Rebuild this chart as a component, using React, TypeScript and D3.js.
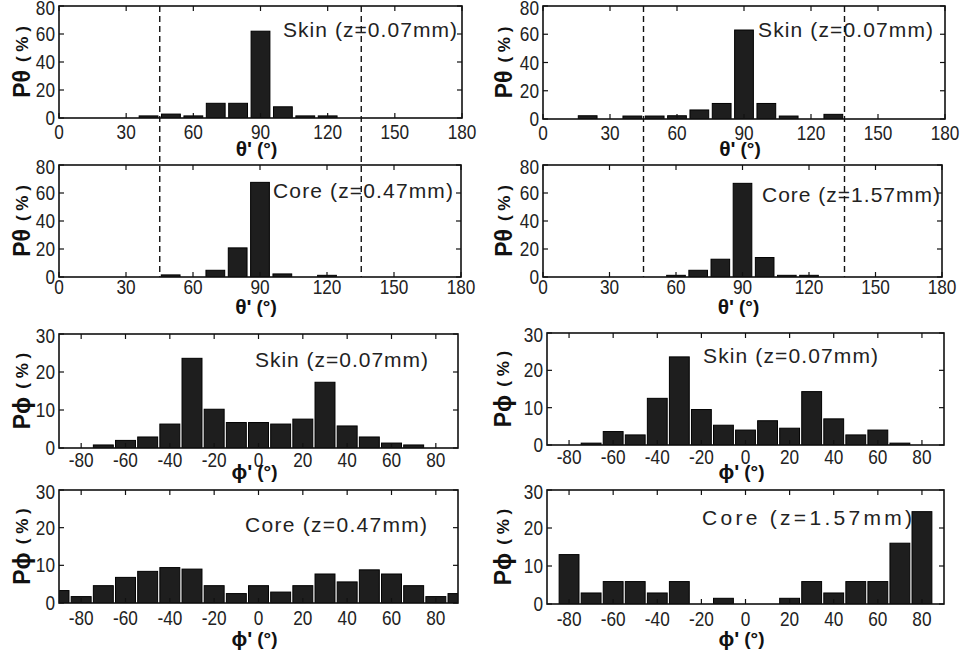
import React from "react";
import * as d3 from "d3";

// ---- data ----
const thetaCenters = [20, 30, 40, 50, 60, 70, 80, 90, 100, 110, 120, 130];
const thetaSkinLeft = [0, 0, 1.5, 2.8, 1.5, 10.5, 10.5, 62, 8, 1.5, 1.5, 0];
const thetaSkinRight = [2.3, 0, 2.1, 2.1, 2.3, 6.4, 11, 63, 11, 2.1, 0, 3.3];
const thetaCoreLeft = [0, 0, 0, 1.5, 0, 4.8, 20.8, 67.6, 2.2, 0, 1.2, 0];
const thetaCoreRight = [0, 0, 0, 0, 1.2, 4.8, 12.7, 66.9, 13.9, 1.2, 1.2, 0];

const phiCenters = [-90, -80, -70, -60, -50, -40, -30, -20, -10, 0, 10, 20, 30, 40, 50, 60, 70, 80, 90];
const phiSkinLeft = [0, 0, 0.8, 2, 2.9, 6.3, 23.6, 10.2, 6.7, 6.7, 6.3, 7.6, 17.3, 5.8, 2.9, 1.3, 0.8, 0, 0];
const phiSkinRight = [0, 0, 0.5, 3.6, 2.7, 12.5, 23.6, 9.5, 5.3, 4, 6.5, 4.5, 14.3, 7, 2.7, 4, 0.5, 0, 0];
const phiCoreLeft = [3.3, 1.7, 4.6, 6.8, 8.4, 9.4, 9, 4.6, 2.5, 4.6, 2.9, 4.6, 7.7, 5.6, 8.8, 7.7, 4.6, 1.7, 2.5];
const phiCoreRight = [0, 13, 2.9, 5.9, 5.9, 2.9, 5.9, 0, 1.5, 0, 0, 1.5, 5.9, 2.9, 5.9, 5.9, 16, 24.3, 0];

const thetaXTicks = [0, 30, 60, 90, 120, 150, 180];
const thetaYTicks = [0, 20, 40, 60, 80];
const phiXTicks = [-80, -60, -40, -20, 0, 20, 40, 60, 80];
const phiYTicks = [0, 10, 20, 30];
const thetaGuides = [45, 135];

const labels = [
  "Skin (z=0.07mm)",
  "Skin (z=0.07mm)",
  "Core (z=0.47mm)",
  "Core (z=1.57mm)",
  "Skin (z=0.07mm)",
  "Skin (z=0.07mm)",
  "Core (z=0.47mm)",
  "Core (z=1.57mm)",
];

type Layout = {
  x0: number; x1: number; y0: number; y1: number;
  kind: "theta" | "phi";
  values: number[];
  label: string;
  lx: number; ly: number; lw: number;
  tickOff: number; xLabY: number; yLabX: number;
};

const layouts: Layout[] = [
  { x0: 59, x1: 462, y0: 6, y1: 118, kind: "theta", values: thetaSkinLeft, label: labels[0], lx: 283, ly: 37, lw: 174, tickOff: 14, xLabY: 148, yLabX: 22 },
  { x0: 543, x1: 945, y0: 6, y1: 119, kind: "theta", values: thetaSkinRight, label: labels[1], lx: 758, ly: 37, lw: 175, tickOff: 14, xLabY: 148, yLabX: 504 },
  { x0: 59, x1: 461, y0: 165, y1: 277, kind: "theta", values: thetaCoreLeft, label: labels[2], lx: 273, ly: 198, lw: 180, tickOff: 9.5, xLabY: 306, yLabX: 22 },
  { x0: 543, x1: 942, y0: 165, y1: 277, kind: "theta", values: thetaCoreRight, label: labels[3], lx: 762, ly: 202, lw: 178, tickOff: 9.5, xLabY: 306, yLabX: 504 },
  { x0: 59, x1: 458, y0: 334, y1: 448, kind: "phi", values: phiSkinLeft, label: labels[4], lx: 255, ly: 367, lw: 173, tickOff: 11.5, xLabY: 471, yLabX: 22 },
  { x0: 547, x1: 944, y0: 333, y1: 445, kind: "phi", values: phiSkinRight, label: labels[5], lx: 703, ly: 363, lw: 175, tickOff: 11.5, xLabY: 471, yLabX: 503 },
  { x0: 59, x1: 458, y0: 490, y1: 603, kind: "phi", values: phiCoreLeft, label: labels[6], lx: 245, ly: 532, lw: 182, tickOff: 15, xLabY: 638, yLabX: 22 },
  { x0: 547, x1: 944, y0: 490, y1: 604, kind: "phi", values: phiCoreRight, label: labels[7], lx: 702, ly: 525, lw: 210, tickOff: 15, xLabY: 638, yLabX: 503 },
];

const FONT = "'Liberation Sans', Arial, Helvetica, sans-serif";
const SX = 0.82;

function Panel({ L, idx }: { L: Layout; idx: number }) {
  const isTheta = L.kind === "theta";
  const x = d3.scaleLinear().domain(isTheta ? [0, 180] : [-90, 90]).range([L.x0, L.x1]);
  const y = d3.scaleLinear().domain(isTheta ? [0, 80] : [0, 30]).range([L.y1, L.y0]);
  const centers = isTheta ? thetaCenters : phiCenters;
  const xt = isTheta ? thetaXTicks : phiXTicks;
  const yt = isTheta ? thetaYTicks : phiYTicks;
  const half = isTheta ? 4.2 : 4.5;
  const clipId = `clip${idx}`;
  const tl = 5;
  const sym = isTheta ? "θ" : "ϕ";
  return (
    <g>
      <defs>
        <clipPath id={clipId}>
          <rect x={L.x0} y={L.y0} width={L.x1 - L.x0} height={L.y1 - L.y0} />
        </clipPath>
      </defs>
      <g clipPath={`url(#${clipId})`}>
        {centers.map((c, i) =>
          L.values[i] > 0 ? (
            <rect
              key={i}
              x={x(c - half)}
              width={x(c + half) - x(c - half)}
              y={y(L.values[i])}
              height={y(0) - y(L.values[i])}
              fill="#1e1e1e"
              stroke="#000"
              strokeWidth={1}
            />
          ) : null
        )}
      </g>
      {xt.map((t) => (
        <g key={"xt" + t}>
          <line x1={x(t)} x2={x(t)} y1={L.y1} y2={L.y1 - tl} stroke="#111" strokeWidth={1.2} />
          <line x1={x(t)} x2={x(t)} y1={L.y0} y2={L.y0 + tl} stroke="#111" strokeWidth={1.2} />
          <text
            transform={`translate(${x(t)},${L.y1 + L.tickOff}) scale(${SX},1)`}
            textAnchor="middle"
            dominantBaseline="central"
            fontSize={21}
            fontFamily={FONT}
            fill="#222"
          >
            {t}
          </text>
        </g>
      ))}
      {yt.map((t) => (
        <g key={"yt" + t}>
          <line x1={L.x0} x2={L.x0 + tl} y1={y(t)} y2={y(t)} stroke="#111" strokeWidth={1.2} />
          <line x1={L.x1} x2={L.x1 - tl} y1={y(t)} y2={y(t)} stroke="#111" strokeWidth={1.2} />
          <text
            transform={`translate(${L.x0 - 4},${Math.max(y(t), L.y0 + 2)}) scale(${SX},1)`}
            textAnchor="end"
            dominantBaseline="central"
            fontSize={21}
            fontFamily={FONT}
            fill="#222"
          >
            {t}
          </text>
        </g>
      ))}
      <rect x={L.x0} y={L.y0} width={L.x1 - L.x0} height={L.y1 - L.y0} fill="none" stroke="#111" strokeWidth={1.6} />
      <text
        x={L.lx}
        y={L.ly}
        fontSize={21}
        fontFamily={FONT}
        fill="#222"
        textLength={L.lw}
        lengthAdjust="spacing"
      >
        {L.label}
      </text>
      <text
        x={(L.x0 + L.x1) / 2 - 4}
        y={L.xLabY}
        textAnchor="middle"
        dominantBaseline="central"
        fontFamily={FONT}
        fontWeight="bold"
        fill="#111"
      >
        <tspan fontSize={21}>{sym}'</tspan>
        <tspan fontSize={19} dx={5}>(°)</tspan>
      </text>
      <text
        transform={`translate(${L.yLabX},${(L.y0 + L.y1) / 2}) rotate(-90)`}
        textAnchor="middle"
        dominantBaseline="central"
        fontFamily={FONT}
        fontWeight="bold"
        fill="#111"
      >
        <tspan fontSize={23}>{"P" + sym}</tspan>
        <tspan fontSize={17} dx={8}>( % )</tspan>
      </text>
    </g>
  );
}

export default function App() {
  const colL = d3.scaleLinear().domain([0, 180]).range([layouts[0].x0, layouts[0].x1]);
  const colR = d3.scaleLinear().domain([0, 180]).range([layouts[1].x0, layouts[1].x1]);
  return (
    <svg
      width={960}
      height={657}
      style={{ position: "absolute", left: 0, top: 0, background: "#fff" }}
    >
      <rect width={960} height={657} fill="#fff" />
      {layouts.map((L, i) => (
        <Panel key={i} L={L} idx={i} />
      ))}
      {[colL, colR].map((s, ci) =>
        thetaGuides.map((g) => (
          <line
            key={ci + "-" + g}
            x1={s(g)}
            x2={s(g)}
            y1={layouts[0].y0}
            y2={layouts[2].y1}
            stroke="#111"
            strokeWidth={1.4}
            strokeDasharray="6,4"
          />
        ))
      )}
    </svg>
  );
}
